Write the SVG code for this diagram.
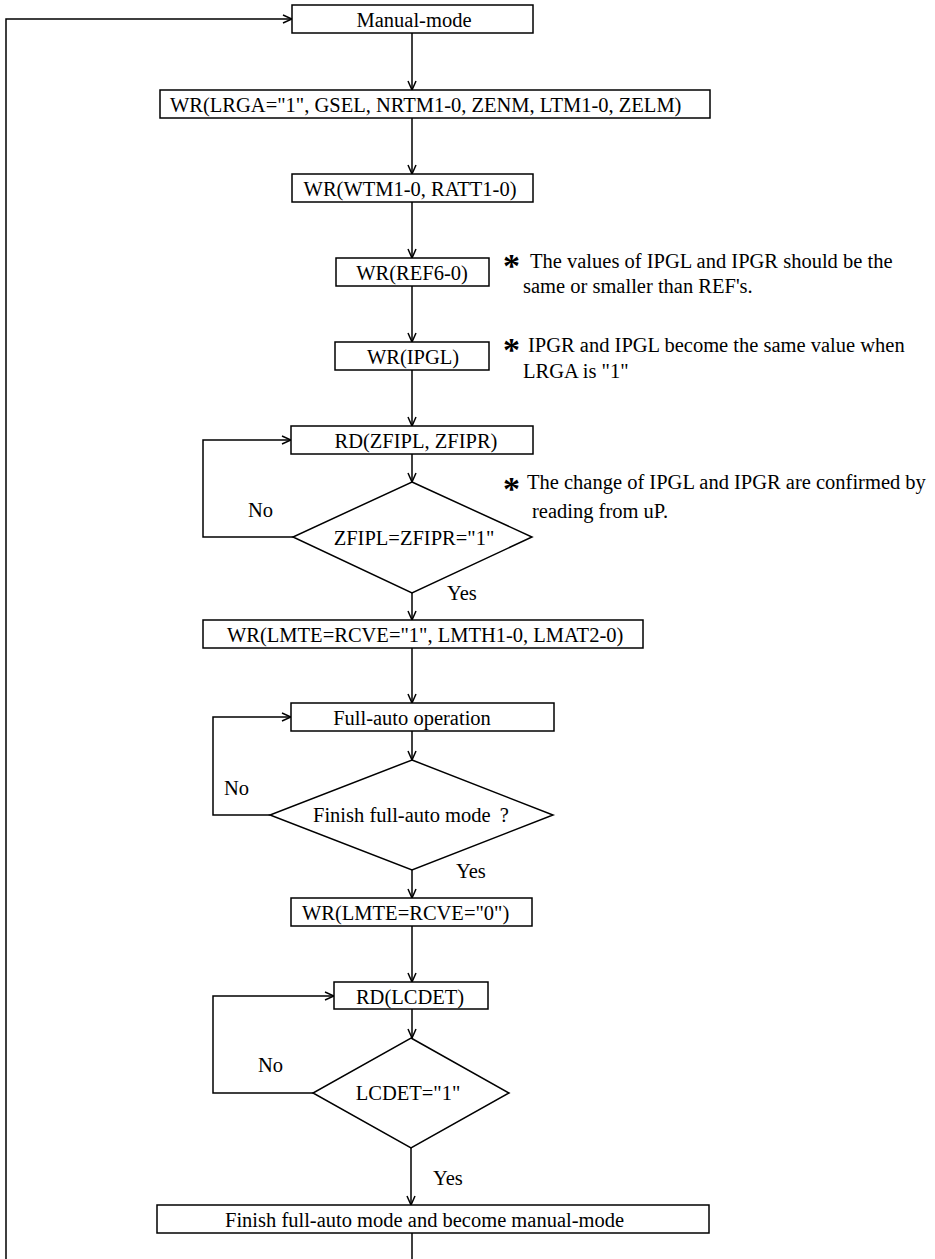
<svg xmlns="http://www.w3.org/2000/svg" width="935" height="1259" viewBox="0 0 935 1259">
<style>
.b{fill:#fff;stroke:#000;stroke-width:1.5}
.t{font-family:"Liberation Serif","Times New Roman",serif;font-size:20.5px;fill:#000}
.m{text-anchor:middle}
.s{font-family:"Liberation Serif","Times New Roman",serif;font-size:34px;font-weight:bold;fill:#000}
.c{fill:none;stroke:#000;stroke-width:1.5}
</style>
<defs>
<marker id="a" viewBox="0 0 10 10" refX="10" refY="5" markerWidth="10" markerHeight="10" markerUnits="userSpaceOnUse" orient="auto">
<path d="M1,1 L10,5 L1,9" fill="none" stroke="#000" stroke-width="1.5"/>
</marker>
</defs>
<rect width="935" height="1259" fill="#fff"/>
<g id="connectors" class="c">
<path d="M412,33 V90" marker-end="url(#a)"/>
<path d="M412,118 V174" marker-end="url(#a)"/>
<path d="M412,202 V258" marker-end="url(#a)"/>
<path d="M412,286 V342" marker-end="url(#a)"/>
<path d="M412,370 V426" marker-end="url(#a)"/>
<path d="M412,454 V482" marker-end="url(#a)"/>
<path d="M412,593 V620" marker-end="url(#a)"/>
<path d="M412,648 V703" marker-end="url(#a)"/>
<path d="M412,731 V760" marker-end="url(#a)"/>
<path d="M412,870 V898" marker-end="url(#a)"/>
<path d="M412,926 V982" marker-end="url(#a)"/>
<path d="M412,1009 V1038" marker-end="url(#a)"/>
<path d="M411,1148 V1205" marker-end="url(#a)"/>
<path d="M412,1233 V1259"/>
<path d="M293,537 H203 V440 H291" marker-end="url(#a)"/>
<path d="M270,815 H213 V717 H291" marker-end="url(#a)"/>
<path d="M313,1093 H213 V996 H334" marker-end="url(#a)"/>
<path d="M6,1259 V19 H292" marker-end="url(#a)"/>
</g>
<g id="n1"><rect class="b" x="292" y="5" width="241" height="28"/><text class="t m" x="414" y="27">Manual-mode</text></g>
<g id="n2"><rect class="b" x="160" y="90" width="550" height="28"/><text class="t" x="170" y="112">WR(LRGA="1", GSEL, NRTM1-0, ZENM, LTM1-0, ZELM)</text></g>
<g id="n3"><rect class="b" x="292" y="174" width="241" height="28"/><text class="t m" x="410" y="196">WR(WTM1-0, RATT1-0)</text></g>
<g id="n4"><rect class="b" x="336" y="258" width="153" height="28"/><text class="t m" x="412" y="280">WR(REF6-0)</text></g>
<g id="note1"><text class="s" x="503" y="277">*</text><text class="t" x="530" y="268">The values of IPGL and IPGR should be the</text><text class="t" x="523" y="293">same or smaller than REF's.</text></g>
<g id="n5"><rect class="b" x="335" y="342" width="154" height="28"/><text class="t m" x="413" y="364">WR(IPGL)</text></g>
<g id="note2"><text class="s" x="503" y="361">*</text><text class="t" x="528" y="352">IPGR and IPGL become the same value when</text><text class="t" x="523" y="378">LRGA is "1"</text></g>
<g id="n6"><rect class="b" x="291" y="426" width="242" height="28"/><text class="t m" x="416" y="448">RD(ZFIPL, ZFIPR)</text></g>
<g id="d1"><polygon class="b" points="412,482 532,537 412,593 293,537"/><text class="t m" x="414" y="545">ZFIPL=ZFIPR="1"</text></g>
<g id="note3"><text class="s" x="503" y="500">*</text><text class="t" x="527" y="489">The change of IPGL and IPGR are confirmed by</text><text class="t" x="532" y="518">reading from uP.</text></g>
<text class="t" x="248" y="517">No</text>
<text class="t" x="447" y="600">Yes</text>
<g id="n7"><rect class="b" x="203" y="620" width="440" height="28"/><text class="t" x="227" y="642">WR(LMTE=RCVE="1", LMTH1-0, LMAT2-0)</text></g>
<g id="n8"><rect class="b" x="291" y="703" width="263" height="28"/><text class="t m" x="412" y="725">Full-auto operation</text></g>
<g id="d2"><polygon class="b" points="412,760 553,815 412,870 270,815"/><text class="t" x="313" y="822">Finish full-auto mode <tspan dx="4">?</tspan></text></g>
<text class="t" x="224" y="795">No</text>
<text class="t" x="456" y="878">Yes</text>
<g id="n9"><rect class="b" x="291" y="898" width="241" height="28"/><text class="t" x="302" y="920">WR(LMTE=RCVE="0")</text></g>
<g id="n10"><rect class="b" x="334" y="982" width="154" height="27"/><text class="t m" x="410" y="1004">RD(LCDET)</text></g>
<g id="d3"><polygon class="b" points="411,1038 509,1093 411,1148 313,1093"/><text class="t m" x="408" y="1100">LCDET="1"</text></g>
<text class="t" x="258" y="1072">No</text>
<text class="t" x="433" y="1185">Yes</text>
<g id="n11"><rect class="b" x="157" y="1205" width="552" height="28"/><text class="t" x="225" y="1227">Finish full-auto mode and become manual-mode</text></g>
</svg>
